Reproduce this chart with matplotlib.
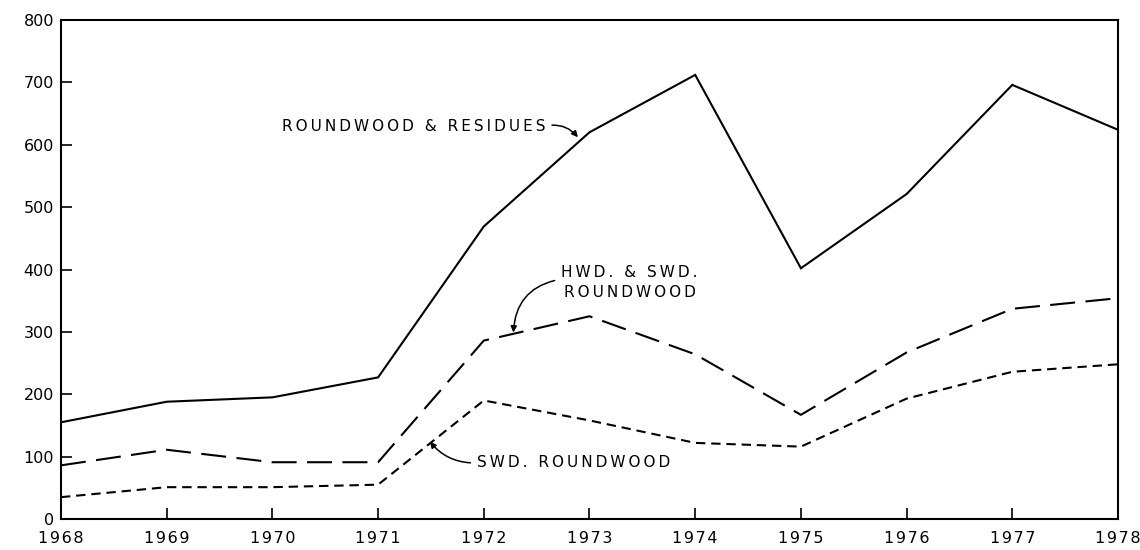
import matplotlib
matplotlib.use("Agg")
import matplotlib.pyplot as plt

# ── data ──────────────────────────────────────────────────────────────────────
years = [1968, 1969, 1970, 1971, 1972, 1973, 1974, 1975, 1976, 1977, 1978]
roundwood_residues = [155, 188, 195, 227, 469, 620, 712, 402, 521, 696, 624]
hwd_swd_roundwood  = [86, 111, 91, 91, 286, 325, 264, 167, 267, 337, 354]
swd_roundwood      = [35, 51, 51, 55, 190, 158, 122, 116, 193, 236, 248]

y_ticks       = [0, 100, 200, 300, 400, 500, 600, 700, 800]
y_tick_labels = ["0", "100", "200", "300", "400", "500", "600", "700", "800"]

FONT = "DejaVu Sans"
LW   = 1.5


def spaced(s, gap="\u200a"):
    # draftsman lettering is set wide; open it up with narrow spaces
    return gap.join(s)


fig = plt.figure(figsize=(11.4, 5.5), dpi=100)
ax = fig.add_axes([0.0535, 0.0564, 0.9272, 0.9072])

ax.plot(years, roundwood_residues, color="black", lw=LW, solid_joinstyle="miter")
ax.plot(years, hwd_swd_roundwood, color="black", lw=LW, linestyle=(0, (12, 5)))
ax.plot(years, swd_roundwood, color="black", lw=LW, linestyle=(0, (4.5, 2.8)))

ax.set_xlim(1968, 1978)
ax.set_ylim(0, 800)
ax.set_xticks(years)
ax.set_xticklabels([spaced(str(y)) for y in years], fontsize=11.5, family=FONT)
ax.set_yticks(y_ticks)
ax.set_yticklabels(y_tick_labels, fontsize=11.5, family=FONT)
ax.tick_params(axis="both", direction="in", length=8, width=1.2, colors="black")
ax.tick_params(axis="x", pad=9)
ax.tick_params(axis="y", pad=5)
for s in ax.spines.values():
    s.set_linewidth(1.5)

# ── annotations ───────────────────────────────────────────────────────────────
arrow = dict(arrowstyle="-|>", color="black", lw=1.1, mutation_scale=9, shrinkA=3, shrinkB=0)
THIN = "\u2009"

ax.annotate(spaced("ROUNDWOOD & RESIDUES", THIN), xy=(1972.89, 612), xytext=(1972.58, 630),
            ha="right", va="center", fontsize=11, family=FONT,
            arrowprops=dict(arrow, relpos=(1, 0.5), connectionstyle="arc3,rad=-0.3"))

ax.annotate(spaced("HWD. & SWD.", THIN) + "\n" + spaced("ROUNDWOOD", THIN), xy=(1972.28, 299),
            xytext=(1973.38, 379),
            ha="center", va="center", fontsize=11, family=FONT, linespacing=1.4,
            arrowprops=dict(arrow, relpos=(0, 0.6), connectionstyle="arc3,rad=0.4"))

ax.annotate(spaced("SWD. ROUNDWOOD", THIN), xy=(1971.49, 124), xytext=(1971.94, 90),
            ha="left", va="center", fontsize=11, family=FONT,
            arrowprops=dict(arrow, relpos=(0, 0.5), connectionstyle="arc3,rad=-0.25"))

fig.savefig("out.png", dpi=100, facecolor="white")
